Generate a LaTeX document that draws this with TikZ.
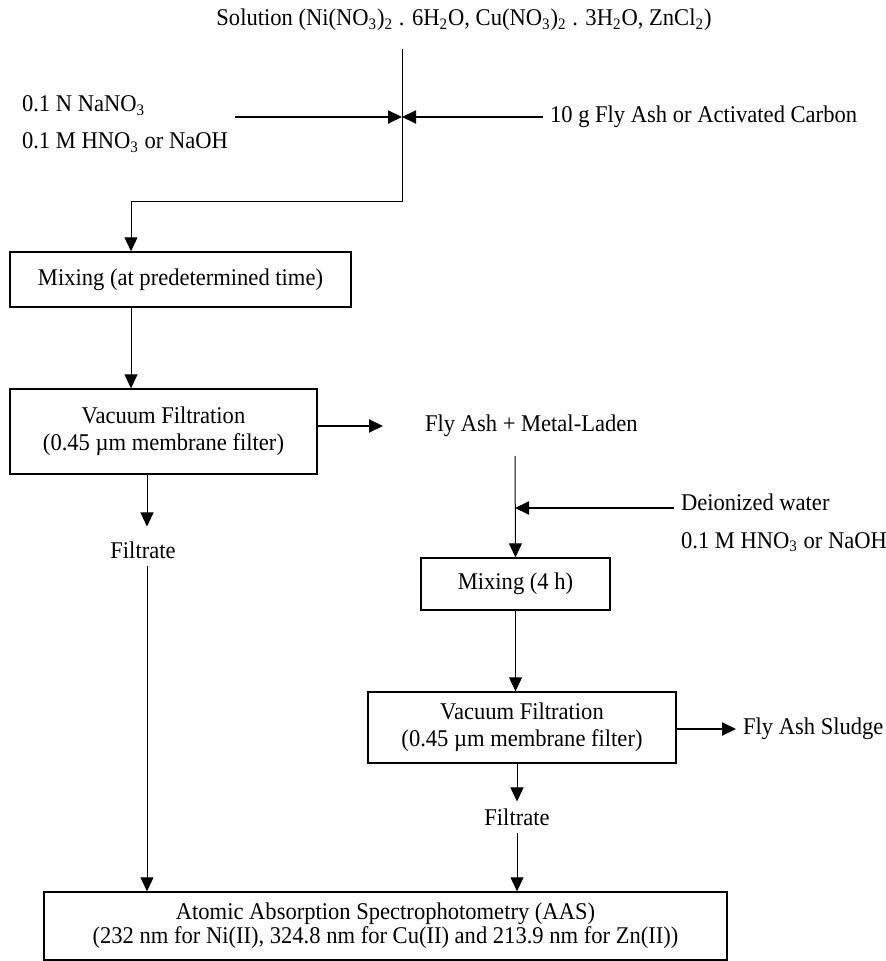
\documentclass[tikz,border=0pt]{standalone}
\usepackage{fontspec}
\setmainfont{Liberation Serif}[FakeStretch=0.94]
\usetikzlibrary{arrows.meta, positioning}

\tikzset{
  procbox/.style={draw, line width=0.7pt, align=center},
  flow/.style={->, line width=0.5pt},
  feed/.style={->, line width=1pt},
  >={Triangle[length=7pt,width=6.5pt]}
}

\begin{document}
\begin{tikzpicture}[x=0.5pt, y=-0.5pt, font=\fontsize{12}{13.5}\selectfont]
\useasboundingbox (0,0) rectangle (886,961);
% Nodes
\node (solution) at (464,20) {Solution (Ni(NO\textsubscript{3})\textsubscript{2} . 6H\textsubscript{2}O, Cu(NO\textsubscript{3})\textsubscript{2} . 3H\textsubscript{2}O, ZnCl\textsubscript{2})};
\node[align=left, anchor=west] (acid) at (15,124) {0.1 N NaNO\textsubscript{3}\\[5pt]0.1 M HNO\textsubscript{3} or NaOH};
\node[anchor=west] (carbon) at (543,117) {10 g Fly Ash or Activated Carbon};
\coordinate (top) at (402,49);
\coordinate (join) at (402,117);
\coordinate (bend) at (402,202);

\node[procbox, minimum width=170.5pt, minimum height=27.5pt] (mix1) at (180.5,279.5) {Mixing (at predetermined time)};
\node[procbox, minimum width=153.5pt, minimum height=42.5pt] (vac1) at (163.5,431.5) {Vacuum Filtration\\(0.45 µm membrane filter)};
\node[anchor=west] (laden) at (418,426) {Fly Ash + Metal-Laden};
\node (filt1) at (143,550) {Filtrate};

\coordinate (drop) at (515,456);
\node[anchor=west] (water) at (674,502) {Deionized water};
\node[anchor=west] (acid2) at (674,542) {0.1 M HNO\textsubscript{3} or NaOH};
\coordinate (wjoin) at (515,508);
\node[procbox, minimum width=94.5pt, minimum height=26pt] (mix2) at (515.5,584) {Mixing (4 h)};
\node[procbox, minimum width=154pt, minimum height=35.5pt] (vac2) at (522,727.5) {Vacuum Filtration\\(0.45 µm membrane filter)};
\node[anchor=west] (sludge) at (736,729) {Fly Ash Sludge};
\node (filt2) at (517,817) {Filtrate};

\node[procbox, minimum width=341.5pt, minimum height=34pt] (aas) at (385.5,926) {Atomic Absorption Spectrophotometry (AAS)\\[-1.5pt](232 nm for Ni(II), 324.8 nm for Cu(II) and 213.9 nm for Zn(II))};

% Arrows
\draw[feed] (acid.east |- join) -- (join);
\draw[feed] (carbon.west) -- (join);
\draw[flow] (top) -- (bend) -| ([xshift=-24.75pt]mix1.north);
\draw[flow] ([xshift=-24.75pt]mix1.south) -- ([xshift=-24.75pt]mix1.south |- vac1.north);
\draw[feed, shorten >=17.5pt] (vac1.east |- laden.west) -- (laden.west);
\draw[flow, shorten >=4pt] (vac1.south -| 147,0) -- (filt1.north -| 147,0);
\draw[flow] (filt1.south -| 147,0) -- (aas.north -| 147,0);

\draw[flow] (drop) -- (mix2.north);
\draw[feed] (water.west |- wjoin) -- (wjoin);
\draw[flow] (mix2.south) -- (mix2.south |- vac2.north);
\draw[feed] (vac2.east |- sludge.west) -- (sludge.west);
\draw[flow] (vac2.south -| filt2) -- (filt2.north);
\draw[flow] (filt2.south) -- (filt2.south |- aas.north);
\end{tikzpicture}
\end{document}
